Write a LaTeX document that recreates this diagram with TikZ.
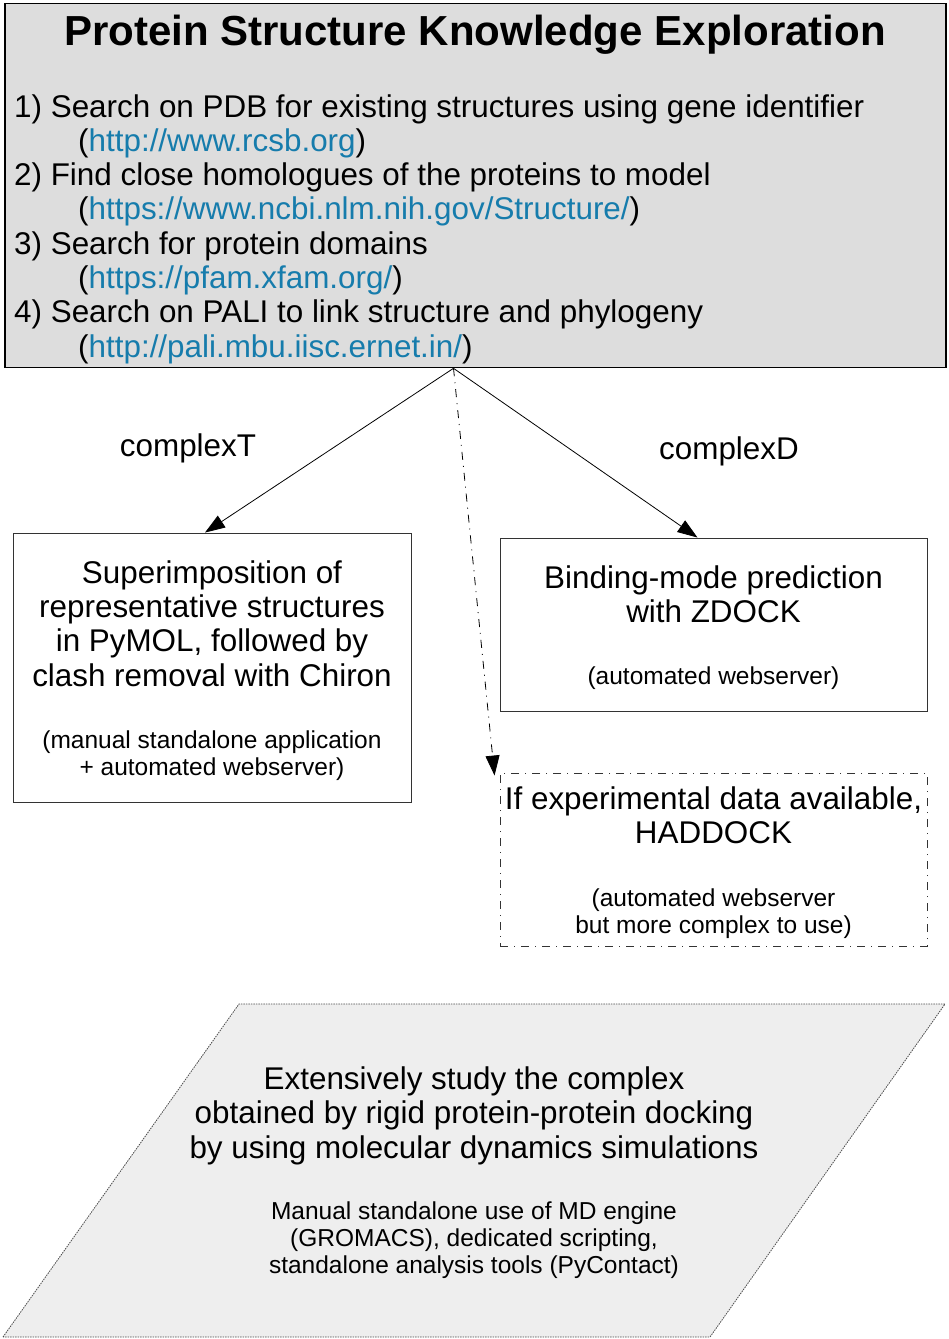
\documentclass[tikz,border=0pt]{standalone}
\usepackage{fontspec}
\setmainfont{Liberation Sans}
\usetikzlibrary{arrows.meta}

\definecolor{linkblue}{RGB}{22,124,172}
\definecolor{panelgrey}{RGB}{221,221,221}
\definecolor{slabgrey}{RGB}{238,238,238}

\newcommand{\titlefont}{\fontsize{42}{46}\bfseries\selectfont}
\newcommand{\stepfont}{\fontsize{31.4}{34.3}\selectfont}
\newcommand{\notefont}{\fontsize{24.5}{27}\selectfont}
\newcommand{\lnk}[1]{(\textcolor{linkblue}{#1})}

\tikzset{
  stepline/.style={anchor=base west, inner sep=0pt, font=\stepfont},
  procbox/.style={draw=black!80, line width=0.9pt, align=center, inner sep=0pt, font=\stepfont},
  flow/.style={-{Triangle[length=20pt,width=14pt]}, line width=0.8pt},
  flowalt/.style={flow, dash pattern=on 8pt off 6pt on 1pt off 6pt},
}

\begin{document}
\begin{tikzpicture}[x=1pt,y=-1pt]
\useasboundingbox (0,0) rectangle (949,1339);

% exploration panel
\node[draw=black, line width=1.2pt, fill=panelgrey, minimum width=941pt, minimum height=364pt, inner sep=0pt] (explore) at (475.5,185.7) {};
\node[anchor=base, inner sep=0pt, font=\titlefont] (title) at (475,45.7) {Protein Structure Knowledge Exploration};
\node[stepline] (step1) at (14,117) {1) Search on PDB for existing structures using gene identifier};
\node[stepline] (url1) at (78,151.3) {\lnk{http://www.rcsb.org}};
\node[stepline] (step2) at (14,185.6) {2) Find close homologues of the proteins to model};
\node[stepline] (url2) at (78,219.9) {\lnk{https://www.ncbi.nlm.nih.gov/Structure/}};
\node[stepline] (step3) at (14,254.2) {3) Search for protein domains};
\node[stepline] (url3) at (78,288.5) {\lnk{https://pfam.xfam.org/}};
\node[stepline] (step4) at (14,322.8) {4) Search on PALI to link structure and phylogeny};
\node[stepline] (url4) at (78,357.1) {\lnk{http://pali.mbu.iisc.ernet.in/}};

% docking routes
\node[procbox, minimum width=398pt, minimum height=269pt] (superpose) at (212,667.5) {};
\node[align=center, inner sep=0pt, font=\stepfont] (superposetext) at (212,670.5)
  {Superimposition of\\ representative structures\\ in PyMOL, followed by\\ clash removal with Chiron\\[28pt]
   \notefont (manual standalone application\\[-7.3pt] \notefont + automated webserver)};
\node[procbox, minimum width=427pt, minimum height=173pt] (zdock) at (713.5,624.5) {};
\node[align=center, inner sep=0pt, font=\stepfont] (zdocktext) at (713.5,627.5)
  {Binding-mode prediction\\ with ZDOCK\\[28pt] \notefont (automated webserver)};
\node[procbox, dash pattern=on 8pt off 6pt on 1pt off 6pt, minimum width=427pt, minimum height=173pt] (haddock) at (713.5,859.5) {};
\node[align=center, inner sep=0pt, font=\stepfont] (haddocktext) at (713.5,862.5)
  {If experimental data available,\\ HADDOCK\\[28pt] \notefont (automated webserver\\[-7.3pt] \notefont but more complex to use)};

\node[font=\stepfont, inner sep=0pt] (labT) at (188,448) {complexT};
\node[font=\stepfont, inner sep=0pt] (labD) at (729,451) {complexD};

\coordinate (fork) at ([xshift=-22pt]explore.south);
\draw[flow] (fork) -- ([xshift=-7pt]superpose.north);
\draw[flow] (fork) -- ([xshift=-16pt]zdock.north);
\draw[flowalt] (fork) -- ([xshift=-5pt,yshift=-3pt]haddock.north west);

% molecular dynamics step
\coordinate (mdTL) at (239,1004);
\coordinate (mdTR) at (945,1004);
\coordinate (mdBR) at (710,1337);
\coordinate (mdBL) at (3,1337);
\draw[fill=slabgrey, draw=black!70, line width=0.8pt, dash pattern=on 1.5pt off 1pt] (mdBL) -- (mdTL) -- (mdTR) -- (mdBR) -- cycle;
\node[align=center, inner sep=0pt, font=\stepfont] (mdtext) at (474,1172.5)
  {Extensively study the complex\\ obtained by rigid protein-protein docking\\ by using molecular dynamics simulations\\[27pt]
   \notefont Manual standalone use of MD engine\\[-7.3pt] \notefont (GROMACS), dedicated scripting,\\[-7.3pt] \notefont standalone analysis tools (PyContact)};

\end{tikzpicture}
\end{document}
